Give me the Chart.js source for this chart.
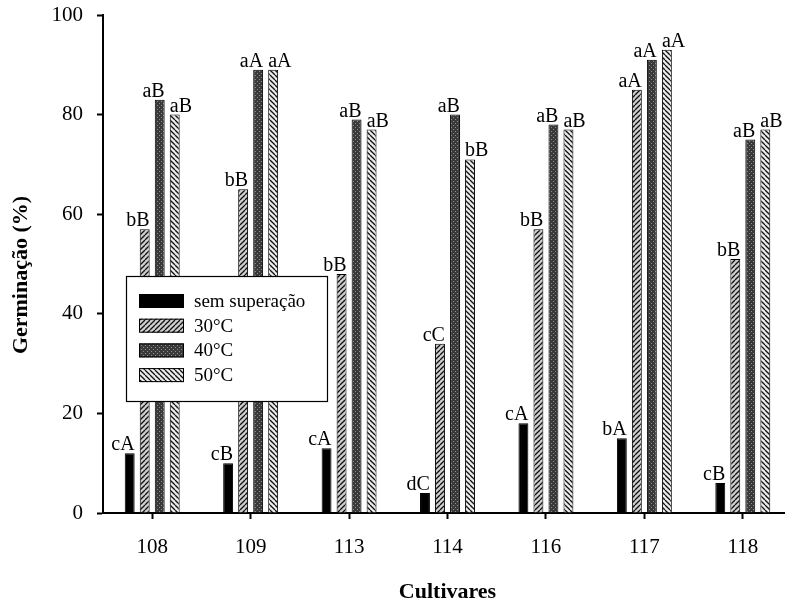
<!DOCTYPE html>
<html>
<head>
<meta charset="utf-8">
<script src="https://cdn.jsdelivr.net/npm/chart.js@4.4.1/dist/chart.umd.min.js"></script>
<style>
  html, body { margin: 0; padding: 0; background: #fff; overflow: hidden; }
  canvas { display: block; }
</style>
</head>
<body>
<canvas id="grafico" width="792" height="603"></canvas>
<script>
// cultivares e germinação (%) por tratamento
const cultivares = ['108', '109', '113', '114', '116', '117', '118'];
const semSuperacao = [12, 10, 13, 4, 18, 15, 6];
const temp30 = [57, 65, 48, 34, 57, 85, 51];
const temp40 = [83, 89, 79, 80, 78, 91, 75];
const temp50 = [80, 89, 77, 71, 77, 93, 77];

// letras do teste de médias sobre cada barra
const letrasSem = ['cA', 'cB', 'cA', 'dC', 'cA', 'bA', 'cB'];
const letras30 = ['bB', 'bB', 'bB', 'cC', 'bB', 'aA', 'bB'];
const letras40 = ['aB', 'aA', 'aB', 'aB', 'aB', 'aA', 'aB'];
const letras50 = ['aB', 'aA', 'aB', 'bB', 'aB', 'aA', 'aB'];

const yTicks = [0, 20, 40, 60, 80, 100];

const serif = "'Liberation Serif', 'Times New Roman', serif";

function hachura(size, bg, draw) {
  const c = document.createElement('canvas');
  c.width = size; c.height = size;
  const g = c.getContext('2d');
  g.fillStyle = bg;
  g.fillRect(0, 0, size, size);
  draw(g, size);
  return g.createPattern(c, 'repeat');
}

const pat30 = hachura(5, '#cfcfcf', (g, s) => {
  g.strokeStyle = '#111'; g.lineWidth = 1.3;
  for (const k of [-s, 0, s]) { g.beginPath(); g.moveTo(k, s); g.lineTo(k + s, 0); g.stroke(); }
});
const pat40 = hachura(4, '#3a3a3a', (g) => {
  g.fillStyle = '#8c8c8c';
  g.fillRect(1, 1, 1, 1);
  g.fillRect(3, 3, 1, 1);
});
const pat50 = hachura(5, '#ececec', (g, s) => {
  g.strokeStyle = '#111'; g.lineWidth = 1.3;
  for (const k of [-s, 0, s]) { g.beginPath(); g.moveTo(k, 0); g.lineTo(k + s, s); g.stroke(); }
});

// letras: as três primeiras séries alinhadas à direita da barra, a última à esquerda
const letrasPlugin = {
  id: 'letras',
  afterDatasetsDraw(chart) {
    const ctx = chart.ctx;
    ctx.save();
    ctx.font = '20px ' + serif;
    ctx.fillStyle = '#000';
    ctx.textBaseline = 'alphabetic';
    chart.data.datasets.forEach((ds, i) => {
      chart.getDatasetMeta(i).data.forEach((bar, j) => {
        const half = bar.width / 2;
        if (i === 3) { ctx.textAlign = 'left'; ctx.fillText(ds.letras[j], bar.x - half, bar.y - 3); }
        else { ctx.textAlign = 'right'; ctx.fillText(ds.letras[j], bar.x + half, bar.y - 3); }
      });
    });
    ctx.restore();
  }
};

// título do eixo y, um pouco abaixo do centro do eixo
const tituloYPlugin = {
  id: 'tituloY',
  afterDraw(chart) {
    const ctx = chart.ctx;
    ctx.save();
    ctx.translate(21, 275);
    ctx.rotate(-Math.PI / 2);
    ctx.font = 'bold 22px ' + serif;
    ctx.fillStyle = '#000';
    ctx.textAlign = 'center';
    ctx.textBaseline = 'middle';
    ctx.fillText('Germinação (%)', 0, 0);
    ctx.restore();
  }
};

// legenda em caixa dentro da área do gráfico
const legendaPlugin = {
  id: 'legendaCaixa',
  afterDraw(chart) {
    const ctx = chart.ctx;
    const bx = 126, by = 276, bw = 201, bh = 125;
    ctx.save();
    ctx.fillStyle = '#fff';
    ctx.fillRect(bx, by, bw, bh);
    ctx.strokeStyle = '#000';
    ctx.lineWidth = 1.2;
    ctx.strokeRect(bx + 0.5, by + 0.5, bw, bh);
    ctx.font = '19px ' + serif;
    ctx.textBaseline = 'middle';
    ctx.textAlign = 'left';
    chart.data.datasets.forEach((ds, i) => {
      const cy = 301 + i * 24.7;
      ctx.fillStyle = ds.backgroundColor;
      ctx.fillRect(139, cy - 7, 45, 14);
      ctx.strokeStyle = '#000';
      ctx.lineWidth = 1;
      ctx.strokeRect(139.5, cy - 6.5, 44, 13);
      ctx.fillStyle = '#000';
      ctx.fillText(ds.label, 194, cy + 1);
    });
    ctx.restore();
  }
};

const serie = (label, data, bg, letras) => ({
  label, data, letras,
  backgroundColor: bg,
  borderColor: '#000',
  borderWidth: 1,
  categoryPercentage: 0.61,
  barPercentage: 0.66
});

new Chart(document.getElementById('grafico'), {
  type: 'bar',
  data: {
    labels: cultivares,
    datasets: [
      serie('sem superação', semSuperacao, '#000', letrasSem),
      serie('30°C', temp30, pat30, letras30),
      serie('40°C', temp40, pat40, letras40),
      serie('50°C', temp50, pat50, letras50)
    ]
  },
  options: {
    responsive: false,
    animation: false,
    layout: { padding: { top: 15, left: 0, right: 0, bottom: 0 } },
    plugins: {
      legend: { display: false },
      tooltip: { enabled: false }
    },
    scales: {
      x: {
        afterFit(scale) { scale.height = 90; scale.paddingLeft = 0; scale.paddingRight = 0; },
        grid: { display: true, offset: false, drawOnChartArea: false, color: '#000', tickLength: 6, tickWidth: 2 },
        border: { display: true, color: '#000', width: 2 },
        ticks: { color: '#000', padding: 16, font: { family: serif, size: 21 } },
        title: {
          display: true, text: 'Cultivares', color: '#000',
          font: { family: serif, size: 22, weight: 'bold', lineHeight: 1 },
          padding: { top: 0, bottom: 0 }
        }
      },
      y: {
        min: 0, max: 100,
        afterFit(scale) { scale.width = 103; scale.paddingTop = 0; scale.paddingBottom = 0; },
        afterBuildTicks(scale) { scale.ticks = yTicks.map(v => ({ value: v })); },
        grid: { display: true, drawOnChartArea: false, color: '#000', tickLength: 6, tickWidth: 2 },
        border: { display: true, color: '#000', width: 2 },
        ticks: { color: '#000', padding: 14, font: { family: serif, size: 21 } }
      }
    }
  },
  plugins: [letrasPlugin, tituloYPlugin, legendaPlugin]
});
</script>
</body>
</html>
